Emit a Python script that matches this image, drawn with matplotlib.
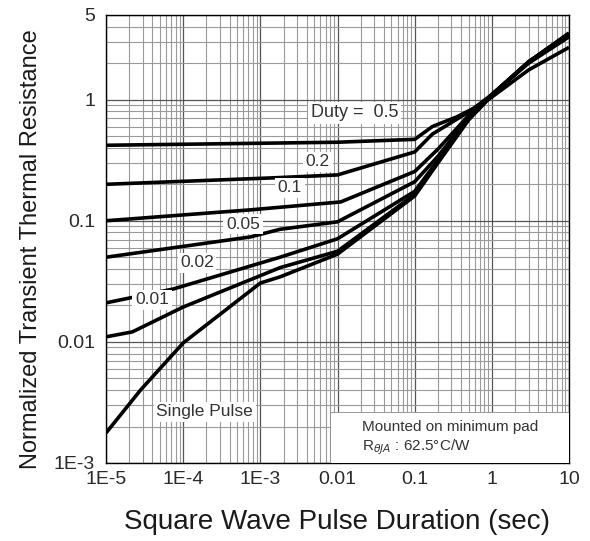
import matplotlib
matplotlib.use("Agg")
import matplotlib.pyplot as plt
from matplotlib.patches import Rectangle

plt.rcParams['font.family'] = ['Liberation Sans', 'DejaVu Sans']

# ---- data ----
t_single = [1e-5, 2.8e-5, 1e-4, 1e-3, 1.8e-3, 0.01, 0.1, 0.2, 0.5, 1, 3, 10]
z_single = [0.00177, 0.004, 0.0098, 0.0306, 0.0344, 0.053, 0.16, 0.30, 0.68, 1.08, 2.05, 3.55]

t_d001 = [1e-5, 2.2e-5, 1e-4, 1.8e-3, 0.01, 0.1, 0.2, 0.5, 1, 3, 10]
z_d001 = [0.011, 0.0121, 0.0194, 0.041, 0.056, 0.165, 0.305, 0.69, 1.09, 2.05, 3.5]

t_d002 = [1e-5, 7.4e-5, 1.8e-3, 0.01, 0.1, 0.2, 0.5, 1, 3, 10]
z_d002 = [0.021, 0.0273, 0.050, 0.071, 0.175, 0.315, 0.70, 1.1, 2.05, 3.5]

t_d005 = [1e-5, 7.4e-4, 1.8e-3, 0.01, 0.1, 0.2, 0.5, 1, 3, 10]
z_d005 = [0.050, 0.0735, 0.085, 0.098, 0.21, 0.34, 0.71, 1.1, 2.05, 3.45]

t_d01 = [1e-5, 7.4e-4, 0.011, 0.1, 0.2, 0.5, 1, 3, 10]
z_d01 = [0.1, 0.123, 0.143, 0.255, 0.39, 0.74, 1.1, 2.05, 3.4]

t_d02 = [1e-5, 1.45e-3, 0.01, 0.1, 0.17, 0.5, 1, 3, 10]
z_d02 = [0.2, 0.226, 0.239, 0.37, 0.52, 0.79, 1.1, 2.0, 3.3]

t_d05 = [1e-5, 0.01, 0.1, 0.17, 0.35, 0.63, 1, 3, 10]
z_d05 = [0.42, 0.445, 0.47, 0.6, 0.72, 0.87, 1.05, 1.76, 2.7]

x_ticks = [1e-5, 1e-4, 1e-3, 0.01, 0.1, 1, 10]
x_ticklabels = ["1E-5", "1E-4", "1E-3", "0.01", "0.1", "1", "10"]
y_ticks = [1e-3, 0.01, 0.1, 1, 5]
y_ticklabels = ["1E-3", "0.01", "0.1", "1", "5"]

curve_labels = ["Duty =  0.5", "0.2", "0.1", "0.05", "0.02", "0.01", "Single Pulse"]

# ---- figure ----
fig = plt.figure(figsize=(5.9, 5.41), dpi=100)
ax = fig.add_axes([0.1797, 0.1442, 0.7847, 0.8281])
ax.set_xscale('log')
ax.set_yscale('log')
ax.set_xlim(1e-5, 10)
ax.set_ylim(1e-3, 5)

ax.grid(True, which='major', color='#555555', lw=0.9, zorder=0)
ax.grid(True, which='minor', color='#9a9a9a', lw=0.8, zorder=0)
ax.set_axisbelow(True)

for t, z in [(t_single, z_single), (t_d001, z_d001), (t_d002, z_d002),
             (t_d005, z_d005), (t_d01, z_d01), (t_d02, z_d02), (t_d05, z_d05)]:
    ax.plot(t, z, color='black', lw=2.6, zorder=3, solid_capstyle='butt')

ax.set_xticks(x_ticks)
ax.set_xticklabels(x_ticklabels)
ax.set_yticks(y_ticks)
ax.set_yticklabels(y_ticklabels)
ax.tick_params(which='both', length=0)
ax.tick_params(axis='x', labelsize=14, pad=6, colors='#2a2a2a')
ax.tick_params(axis='y', labelsize=14, pad=8, colors='#2a2a2a')
for s in ax.spines.values():
    s.set_color('black')
    s.set_linewidth(1.0)

lab_pos = [(0.0168, 0.776), (0.00557, 0.306), (0.00241, 0.187), (5.96e-4, 0.094),
           (1.51e-4, 0.0449), (3.94e-5, 0.0222), (1.91e-4, 0.00264)]
lab_size = [13, 12.5, 12.5, 12.5, 12.5, 12.5, 12.5]
for txt, (lx, ly), fs in zip(curve_labels, lab_pos, lab_size):
    ax.text(lx, ly, txt, ha='center', va='center', fontsize=fs, color='#333333',
            zorder=5, bbox=dict(boxstyle='square,pad=0.15', fc='white', ec='none'))

ax.add_patch(Rectangle((0.484, 0.0), 0.516, 0.114, transform=ax.transAxes,
                       fc='white', ec='#888888', lw=0.6, zorder=4))
ax.text(0.553, 0.080, "Mounted on minimum pad", transform=ax.transAxes,
        ha='left', va='center', fontsize=11, color='#333333', zorder=6)
ax.text(0.553, 0.036, r"R$_{\theta JA}$ : 62.5°C/W", transform=ax.transAxes,
        ha='left', va='center', fontsize=11, color='#333333', zorder=6)

fig.text(0.0525, 0.5397, "Normalized Transient Thermal Resistance", rotation=90,
         ha='center', va='center', fontsize=17, color='#1a1a1a')
fig.text(0.571, 0.035, "Square Wave Pulse Duration (sec)",
         ha='center', va='center', fontsize=20, color='#1a1a1a')

fig.savefig("out.png", dpi=100)
